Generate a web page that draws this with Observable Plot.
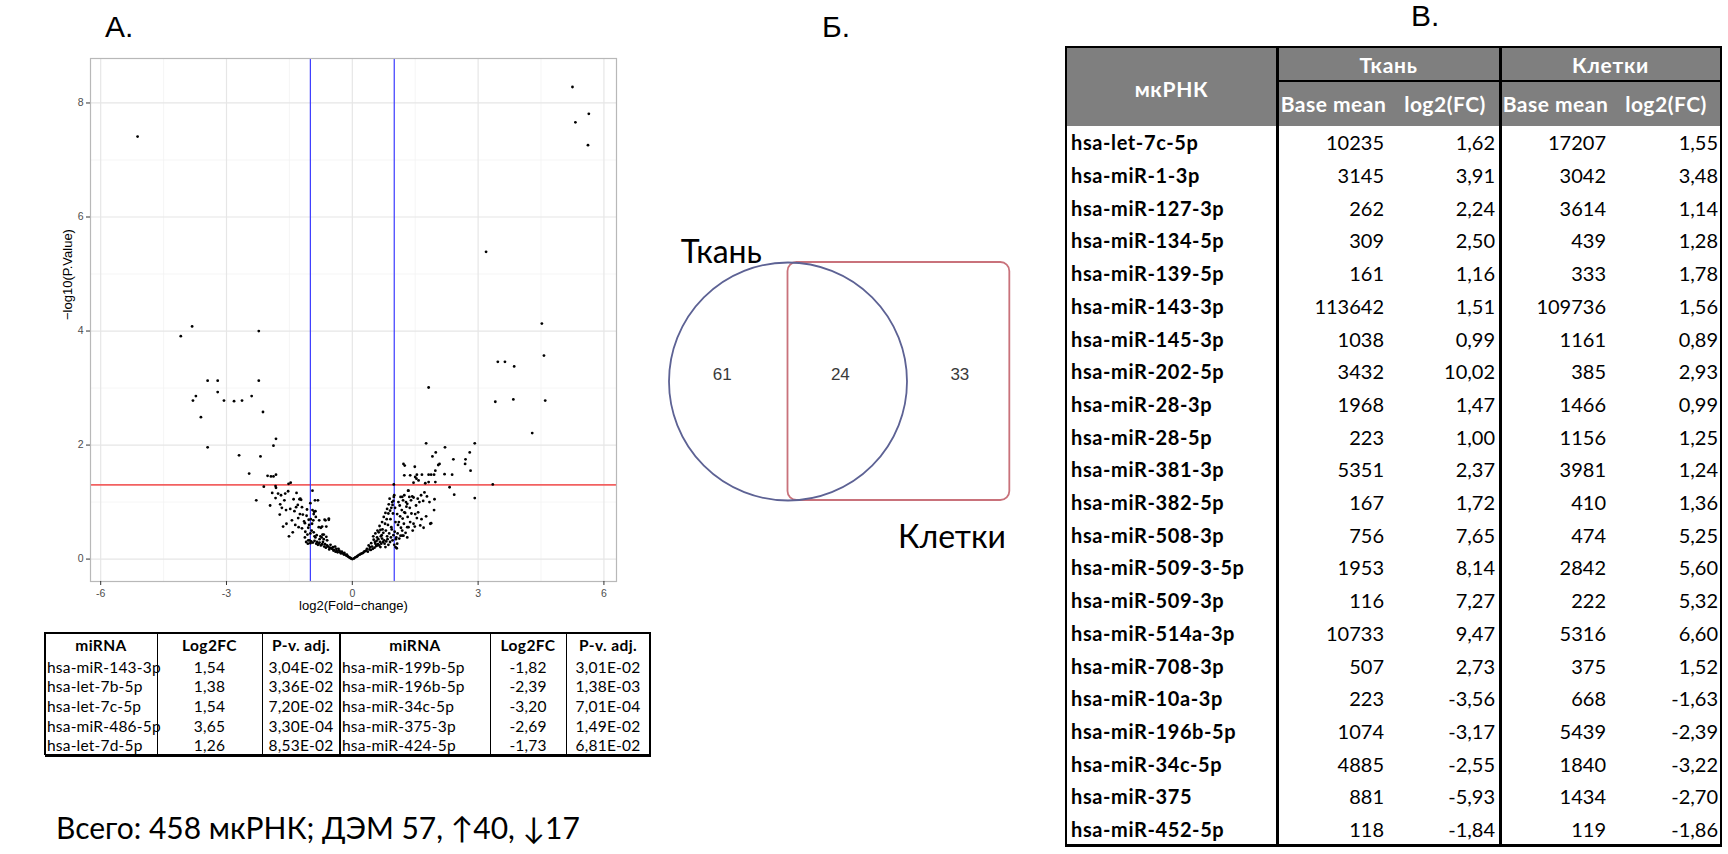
<!DOCTYPE html>
<html lang="ru">
<head>
<meta charset="utf-8">
<script src="https://cdn.jsdelivr.net/npm/d3@7"></script>
<script src="https://cdn.jsdelivr.net/npm/@observablehq/plot@0.6"></script>
<style>
html,body{margin:0;padding:0;background:#fff;}
#page{position:relative;width:1728px;height:854px;overflow:hidden;background:#fff;}
.abs{position:absolute;}
.cell{position:absolute;display:flex;align-items:center;white-space:nowrap;box-sizing:border-box;overflow:visible;}
.line{position:absolute;background:#000;}
</style>
</head>
<body>
<div id="page"></div>
<script>
// ---------------- DATA ----------------
// Volcano plot (A): [log2 fold change, -log10 p-value]
const downReg = [
[-5.12,7.41],[-3.82,4.08],[-4.09,3.91],[-2.23,4.00],[-3.45,3.13],[-3.21,3.13],[-2.23,3.13],[-3.21,2.93],[-3.73,2.86],[-3.80,2.78],[-3.06,2.78],[-2.82,2.77],[-2.63,2.78],[-2.40,2.86],[-2.13,2.58],[-3.61,2.49],[-3.45,1.96],[-1.82,2.11],[-1.88,1.99],[-2.70,1.82],[-2.19,1.80],[-2.46,1.50],[-2.02,1.46],[-1.94,1.45],[-1.88,1.45],[-1.82,1.48],[-2.11,1.27],[-1.83,1.28],[-1.82,1.25],[-1.52,1.32],[-1.47,1.34],[-2.29,1.03],[-0.95,1.20],
[-1.91,1.16],[-1.96,0.94],[-1.83,1.07],[-1.77,1.15],[-1.72,0.96],[-1.73,0.78],[-1.65,0.57],[-1.62,1.03],[-1.58,0.86],[-1.53,1.19],[-1.51,0.40],[-1.48,0.88],[-1.44,0.68],[-1.38,0.84],[-1.34,0.91],[-1.29,0.72],[-1.28,0.56],[-1.24,1.06],[-1.22,1.04],[-1.25,0.79],[-1.18,0.78],[-1.13,0.63],[-1.09,0.76],[-1.07,0.43],[-1.04,0.69],[-1.00,0.28],[-1.06,0.27],[-0.95,0.86],[-0.92,0.79],[-0.88,0.84],[-0.82,1.03],[-0.87,0.74],[-0.93,0.68],[-0.80,0.56],[-0.72,0.57],[-0.64,0.68],[-0.56,0.69],[-0.92,0.47],[-0.88,0.38],[-0.76,0.40],[-0.68,0.43],[-0.62,0.57],[-0.84,0.30],[-0.80,0.27],[-0.72,0.26],[-0.67,0.22],[-0.60,0.24],[-0.54,0.20],[-0.48,0.18],[-0.45,0.15],[-0.41,0.22],[-0.37,0.14],[-0.33,0.18],[-0.29,0.12],[-0.22,0.10],[-0.17,0.08],[-0.11,0.05],[-0.05,0.02],
[-1.30,0.95],[-1.26,1.05],[-1.20,0.91],[-1.13,0.38],[-1.05,0.33],[-0.91,0.83],[-0.89,1.03],[-0.79,0.68],[-0.75,0.55],[-0.71,0.43],[-0.66,0.69],[-0.62,0.39],[-0.56,0.71],
[-1.10,0.30],[-1.02,0.33],[-0.98,0.31],[-0.94,0.29],[-0.90,0.32],[-0.86,0.27],[-0.82,0.25],[-0.78,0.29],[-0.75,0.24],[-0.70,0.30],[-0.65,0.26],[-0.63,0.20],[-0.58,0.22],[-0.55,0.17],[-0.52,0.25],[-0.50,0.19],[-0.46,0.21],[-0.43,0.16],[-0.40,0.13],[-0.38,0.18],[-0.35,0.12],[-0.31,0.15],[-0.27,0.10],[-0.25,0.13],[-0.20,0.08],[-0.19,0.11],[-0.14,0.06],[-0.13,0.08],[-0.09,0.04],[-0.07,0.03],[-0.03,0.01],[-0.60,0.33],[-0.68,0.35],[-0.73,0.38],[-0.78,0.35],[-0.85,0.42],[-0.90,0.40],[-0.97,0.50],[-1.00,0.45],[-1.03,0.60],[-1.05,0.55],[-0.99,0.70],[-0.96,0.62],[-1.08,0.87],[-1.00,0.98],[-1.12,0.48],[-1.20,0.54],[-1.15,0.66],[-1.36,0.60],[-1.42,0.47],[-1.57,0.62],[-1.68,0.90],[-1.70,1.12],[-1.60,1.15],[-1.40,1.05],[-1.33,1.16]
];
const upReg = [
[0,0],[5.25,8.28],[5.64,7.81],[5.32,7.66],[5.62,7.26],[3.19,5.39],[4.52,4.13],[4.57,3.57],[3.47,3.46],[3.64,3.46],[3.86,3.38],[3.41,2.76],[3.84,2.80],[4.60,2.78],[4.29,2.21],[3.35,1.31],[2.92,1.07],[2.92,2.03],[1.82,3.01],
[1.76,2.03],[2.21,1.96],[1.99,1.87],[1.91,1.80],[2.41,1.75],[2.70,1.75],[2.80,1.87],[2.69,1.67],[2.82,1.55],[2.08,1.67],[2.05,1.65],[2.20,1.49],[2.38,1.48],[2.32,1.26],[2.43,1.13],[1.98,1.55],[1.95,1.48],[1.88,1.48],[1.98,1.35],[1.96,1.05],[1.95,0.86],[1.88,0.63],[1.76,0.75],
[1.49,1.62],[1.38,1.47],[1.54,1.48],[1.53,1.41],[1.66,1.48],[1.82,1.48],[1.74,1.33],[1.82,1.35],[1.58,1.38],[1.86,0.62],[1.62,0.59],[1.54,0.72],[1.49,0.57],[1.38,0.65],[1.33,1.20],[1.36,1.09],[1.46,1.08],[1.56,1.06],[1.64,1.12],[1.72,1.17],[1.21,1.03],[1.15,1.09],[1.29,0.92],[1.24,0.82],[1.20,0.71],[1.31,0.56],[1.19,0.50],[1.15,0.41],[1.06,0.19],[1.03,0.65],[1.05,0.38],[0.99,1.09],
[0.07,0.03],[0.15,0.07],[0.23,0.10],[0.31,0.14],[0.35,0.18],[0.39,0.24],[0.45,0.28],[0.51,0.34],[0.55,0.27],[0.59,0.38],[0.63,0.47],[0.67,0.51],[0.71,0.65],[0.75,0.74],[0.79,0.81],[0.83,0.88],[0.87,0.96],[0.89,1.06],[0.95,1.00],[0.93,0.56],[0.83,0.40],[0.71,0.36],[0.79,0.21],[0.67,0.21],[0.59,0.24],[0.99,1.31],[1.03,0.21],[1.07,0.27],[1.12,0.36],[1.19,0.41],[1.11,0.65],[1.07,0.79],[1.13,0.94],[1.19,1.09],[1.24,1.12],[1.31,0.97],[1.26,0.81],[1.34,1.20],[1.22,1.67],[1.25,1.64],[1.24,1.47],[1.50,1.44],[1.46,1.34],[1.40,1.03],[1.50,0.79],[1.46,0.62],[1.34,0.56],[1.22,0.41],[1.31,0.38],
[0.04,0.01],[0.10,0.04],[0.12,0.05],[0.18,0.08],[0.20,0.09],[0.26,0.11],[0.28,0.13],[0.33,0.15],[0.37,0.13],[0.41,0.17],[0.42,0.21],[0.44,0.16],[0.47,0.22],[0.49,0.18],[0.53,0.20],[0.54,0.30],[0.57,0.23],[0.58,0.32],[0.61,0.26],[0.62,0.35],[0.64,0.24],[0.66,0.30],[0.69,0.27],[0.70,0.42],[0.73,0.30],[0.74,0.46],[0.76,0.33],[0.77,0.27],[0.80,0.50],[0.81,0.31],[0.84,0.35],[0.85,0.60],[0.86,0.25],[0.88,0.45],[0.90,0.30],[0.91,0.70],[0.92,0.38],[0.94,0.52],[0.96,0.33],[0.97,0.80],[0.98,0.42],[1.00,0.25],[1.01,0.48],[1.02,0.90],[1.04,0.35],[1.08,0.45],[1.09,0.60],[1.10,1.00],[1.14,0.75],[1.16,0.55],[1.18,0.86],[1.23,0.62],[1.27,0.46],[1.28,1.00],[1.32,0.74],[1.37,0.90],[1.41,0.80],[1.43,1.10],[1.44,0.50],[1.52,0.94],[1.57,0.82],[1.60,1.00],[1.65,0.70],[1.69,1.02],[1.70,0.55],[1.78,1.10],[1.84,1.00],[0.50,0.40],[0.55,0.45],[0.60,0.50],[0.65,0.58],[0.68,0.40],[0.72,0.52],[0.78,0.62],[0.82,0.70],[0.86,0.80],[0.90,0.85],[0.93,0.90],[0.96,0.95],[0.98,1.02],[1.00,1.12]
];
const xTicks = [-6, -3, 0, 3, 6];
const xMinor = [-4.5, -1.5, 1.5, 4.5];
const yTicks = [0, 2, 4, 6, 8];
const yMinor = [1, 3, 5, 7];
const pThreshold = [1.301];     // -log10(0.05)
const fcThresholds = [-1, 1];

// Small table under A
const smallHeader = ["miRNA", "Log2FC", "P-v. adj.", "miRNA", "Log2FC", "P-v. adj."];
const upNames = ["hsa-miR-143-3p", "hsa-let-7b-5p", "hsa-let-7c-5p", "hsa-miR-486-5p", "hsa-let-7d-5p"];
const upLog2FC = [1.54, 1.38, 1.54, 3.65, 1.26];
const upPadj = [3.04e-2, 3.36e-2, 7.20e-2, 3.30e-4, 8.53e-2];
const downNames = ["hsa-miR-199b-5p", "hsa-miR-196b-5p", "hsa-miR-34c-5p", "hsa-miR-375-3p", "hsa-miR-424-5p"];
const downLog2FC = [-1.82, -2.39, -3.20, -2.69, -1.73];
const downPadj = [3.01e-2, 1.38e-3, 7.01e-4, 1.49e-2, 6.81e-2];
const captionText = "Всего: 458 мкРНК; ДЭМ 57, ↑40, ↓17";

// Venn (Б)
const vennSets = ["Ткань", "Клетки"];
const vennCounts = [61, 24, 33];

// Big table (В)
const bigGroups = ["Ткань", "Клетки"];
const bigSub = ["Base mean", "log2(FC)"];
const bigFirst = "мкРНК";
const bigNames = ["hsa-let-7c-5p","hsa-miR-1-3p","hsa-miR-127-3p","hsa-miR-134-5p","hsa-miR-139-5p","hsa-miR-143-3p","hsa-miR-145-3p","hsa-miR-202-5p","hsa-miR-28-3p","hsa-miR-28-5p","hsa-miR-381-3p","hsa-miR-382-5p","hsa-miR-508-3p","hsa-miR-509-3-5p","hsa-miR-509-3p","hsa-miR-514a-3p","hsa-miR-708-3p","hsa-miR-10a-3p","hsa-miR-196b-5p","hsa-miR-34c-5p","hsa-miR-375","hsa-miR-452-5p"];
const tissueBaseMean = [10235,3145,262,309,161,113642,1038,3432,1968,223,5351,167,756,1953,116,10733,507,223,1074,4885,881,118];
const tissueLog2FC = [1.62,3.91,2.24,2.50,1.16,1.51,0.99,10.02,1.47,1.00,2.37,1.72,7.65,8.14,7.27,9.47,2.73,-3.56,-3.17,-2.55,-5.93,-1.84];
const cellsBaseMean = [17207,3042,3614,439,333,109736,1161,385,1466,1156,3981,410,474,2842,222,5316,375,668,5439,1840,1434,119];
const cellsLog2FC = [1.55,3.48,1.14,1.28,1.78,1.56,0.89,2.93,0.99,1.25,1.24,1.36,5.25,5.60,5.32,6.60,1.52,-1.63,-2.39,-3.22,-2.70,-1.86];

const panelLabels = ["А.", "Б.", "В."];

// ---------------- HELPERS ----------------
const page = document.getElementById("page");
const fmt2 = v => v.toFixed(2).replace(".", ",");
const fmtE = v => {
  const [m, e] = v.toExponential(2).split("e");
  const ex = parseInt(e, 10);
  return m.replace(".", ",") + "E" + (ex < 0 ? "-" : "+") + String(Math.abs(ex)).padStart(2, "0");
};
function cell(x, y, w, h, text, css = {}) {
  const d = document.createElement("div");
  d.className = "cell";
  Object.assign(d.style, {left: x + "px", top: y + "px", width: w + "px", height: h + "px"}, css);
  d.textContent = text;
  page.appendChild(d);
  return d;
}
function line(x, y, w, h, color = "#000") {
  const d = document.createElement("div");
  d.className = "line";
  Object.assign(d.style, {left: x + "px", top: y + "px", width: w + "px", height: h + "px", background: color});
  page.appendChild(d);
}

// ---------------- A: VOLCANO ----------------
const volcanoPts = [...downReg, ...upReg].map(([x, y]) => ({x, y}));
const volcano = Plot.plot({
  width: 640, height: 625,
  marginLeft: 90, marginRight: 24, marginTop: 58, marginBottom: 44,
  x: {domain: [-6.243, 6.30], axis: null},
  y: {domain: [-0.393, 8.78], axis: null},
  style: {fontFamily: "'Liberation Sans', Arial, sans-serif", fontSize: "10.5px", color: "#4d4d4d", background: "transparent", overflow: "visible"},
  marks: [
    Plot.gridX(xMinor, {stroke: "#f3f3f3", strokeOpacity: 1, strokeWidth: 0.8}),
    Plot.gridY(yMinor, {stroke: "#f3f3f3", strokeOpacity: 1, strokeWidth: 0.8}),
    Plot.gridX(xTicks, {stroke: "#e6e6e6", strokeOpacity: 1, strokeWidth: 1.2}),
    Plot.gridY(yTicks, {stroke: "#e6e6e6", strokeOpacity: 1, strokeWidth: 1.2}),
    Plot.ruleY(pThreshold, {stroke: "#f26060", strokeWidth: 1.6}),
    Plot.ruleX(fcThresholds, {stroke: "#3a3aff", strokeWidth: 1.2}),
    Plot.dot(volcanoPts, {x: "x", y: "y", r: 1.4, fill: "#000", stroke: "none"}),
    Plot.frame({stroke: "#b8b8b8", strokeWidth: 1.2}),
    Plot.axisX(xTicks, {tickSize: 4, tickPadding: 4, tickFormat: d => String(d), label: null, stroke: "#333"}),
    Plot.axisY(yTicks, {tickSize: 4, tickPadding: 3, tickFormat: d => String(d), label: null, stroke: "#333"}),
    Plot.text(["log2(Fold−change)"], {frameAnchor: "bottom", dy: 28, text: d => d, fontSize: 13, fill: "#000"}),
    Plot.text(["−log10(P.Value)"], {frameAnchor: "left", dx: -23, rotate: -90, text: d => d, fontSize: 13, fill: "#000"})
  ]
});
const vDiv = document.createElement("div");
vDiv.className = "abs"; vDiv.style.left = "0px"; vDiv.style.top = "0px";
vDiv.appendChild(volcano);
page.appendChild(vDiv);

// ---------------- small table ----------------
const ST = {cols: [45, 157, 262, 340, 490, 566, 650], T: 633, H: 657, rowH: 19.6};
const stFont = {fontFamily: "Lato, 'Open Sans', sans-serif", fontSize: "15.5px", color: "#000", lineHeight: "18px"};
smallHeader.forEach((t, j) => {
  cell(ST.cols[j], ST.T, ST.cols[j + 1] - ST.cols[j], ST.H - ST.T, t,
    Object.assign({}, stFont, {justifyContent: "center", fontWeight: "700", letterSpacing: "0.4px"}));
});
const smallRows = upNames.map((n, i) => [n, fmt2(upLog2FC[i]), fmtE(upPadj[i]), downNames[i], fmt2(downLog2FC[i]), fmtE(downPadj[i])]);
smallRows.forEach((r, i) => {
  const y = ST.H + i * ST.rowH;
  r.forEach((t, j) => {
    const isName = j === 0 || j === 3;
    cell(ST.cols[j], y, ST.cols[j + 1] - ST.cols[j], ST.rowH, t,
      Object.assign({}, stFont, {justifyContent: isName ? "flex-start" : "center", paddingLeft: isName ? "2px" : "0", letterSpacing: "0.2px"}));
  });
});
const stB = ST.H + smallRows.length * ST.rowH;
line(ST.cols[0], ST.T - 1, ST.cols[6] - ST.cols[0] + 1, 2);
line(ST.cols[0], stB - 1, ST.cols[6] - ST.cols[0] + 1, 2.5);
ST.cols.forEach((c, j) => {
  const w = (j === 0 || j === 6) ? 1.5 : (j === 3 ? 2.5 : 1);
  line(c - w / 2, ST.T - 1, w, stB - ST.T + (j === 3 ? 3 : 1));
});

// ---------------- B: VENN ----------------
const vennUnit = 119, vW = 420, vH = 360, vCx = 167.5, vCy = 181;
const rectRight = 1.864;           // right edge of "Клетки" box, in circle radii
const circleShape = [{x: 0, y: 0}];
const boxShape = [{x1: 0, x2: rectRight, y1: -1, y2: 1}];
const countPos = [[-0.553, 0.06], [0.44, 0.06], [1.444, 0.06]];
const setLabelPos = [[-0.56, 1.0], [rectRight - 0.486, -1.395]];
const venn = Plot.plot({
  width: vW, height: vH, margin: 0,
  x: {domain: [-vCx / vennUnit, (vW - vCx) / vennUnit], axis: null},
  y: {domain: [-(vH - vCy) / vennUnit, vCy / vennUnit], axis: null},
  style: {background: "transparent", overflow: "visible"},
  marks: [
    Plot.rect(boxShape, {x1: "x1", x2: "x2", y1: "y1", y2: "y2", rx: 9, fill: "none", stroke: "#c9727b", strokeWidth: 1.8}),
    Plot.dot(circleShape, {x: "x", y: "y", r: vennUnit, fill: "none", stroke: "#5d6294", strokeWidth: 1.8}),
    Plot.text(vennCounts, {x: (d, i) => countPos[i][0], y: (d, i) => countPos[i][1], text: d => String(d),
      fontSize: 17, fill: "#3a3a3a", fontFamily: "'Liberation Sans', Arial, sans-serif"}),
    Plot.text(vennSets, {x: (d, i) => setLabelPos[i][0], y: (d, i) => setLabelPos[i][1], text: d => d,
      lineAnchor: "bottom", fontSize: 32, fill: "#000", fontFamily: "Lato, 'Open Sans', sans-serif"})
  ]
});
const vnDiv = document.createElement("div");
vnDiv.className = "abs"; vnDiv.style.left = "620px"; vnDiv.style.top = "200px";
vnDiv.appendChild(venn);
page.appendChild(vnDiv);

// ---------------- C: BIG TABLE ----------------
const BT = {L: 1066, c1: 1277, c2: 1390, c3: 1500, c4: 1611, R: 1721, T: 47, S: 81, H: 126, rowH: 32.7};
const btB = BT.H + bigNames.length * BT.rowH;
const hdr = {fontFamily: "Lato, 'Open Sans', sans-serif", fontWeight: "700", fontSize: "21px", color: "#fff", justifyContent: "center", letterSpacing: "0.7px"};
const hbg = document.createElement("div");
Object.assign(hbg.style, {position: "absolute", left: BT.L + "px", top: BT.T + "px", width: (BT.R - BT.L) + "px", height: (BT.H - BT.T) + "px", background: "#7f7f7f"});
page.appendChild(hbg);
cell(BT.L, BT.T, BT.c1 - BT.L, BT.H - BT.T, bigFirst, Object.assign({}, hdr, {paddingTop: "4px"}));
cell(BT.c1, BT.T, BT.c3 - BT.c1, BT.S - BT.T, bigGroups[0], hdr);
cell(BT.c3, BT.T, BT.R - BT.c3, BT.S - BT.T, bigGroups[1], hdr);
const subCols = [[BT.c1, BT.c2], [BT.c2, BT.c3], [BT.c3, BT.c4], [BT.c4, BT.R]];
subCols.forEach(([a, b], j) => cell(a, BT.S, b - a, BT.H - BT.S, bigSub[j % 2], Object.assign({}, hdr, {letterSpacing: "0.5px"})));
const numCss = {fontFamily: "Lato, 'Open Sans', sans-serif", fontSize: "20px", color: "#000", justifyContent: "flex-end"};
bigNames.forEach((n, i) => {
  const y = BT.H + i * BT.rowH;
  cell(BT.L, y, BT.c1 - BT.L, BT.rowH, n, {fontFamily: "Lato, 'Open Sans', sans-serif", fontWeight: "700", fontSize: "20px", letterSpacing: "0.6px", color: "#000", paddingLeft: "5px"});
  const vals = [String(tissueBaseMean[i]), fmt2(tissueLog2FC[i]), String(cellsBaseMean[i]), fmt2(cellsLog2FC[i])];
  const pads = [6, 5, 5, 3];
  vals.forEach((t, j) => {
    const [a, b] = subCols[j];
    cell(a, y, b - a, BT.rowH, t, Object.assign({}, numCss, {paddingRight: pads[j] + "px"}));
  });
});
line(BT.L, BT.T - 1, BT.R - BT.L + 1, 2);
line(BT.L - 1, BT.T - 1, 2, btB - BT.T + 2);
line(BT.R - 1, BT.T - 1, 2, btB - BT.T + 2);
line(BT.c1 - 1, BT.T - 1, 2.5, btB - BT.T + 2);
line(BT.c3 - 1, BT.T - 1, 2.5, btB - BT.T + 2);
line(BT.c1, BT.S - 1, BT.R - BT.c1, 2);
line(BT.L - 1, btB - 1, BT.R - BT.L + 2, 3);

// ---------------- labels & caption ----------------
const svg = d3.select(page).append("svg")
  .attr("width", 1728).attr("height", 854)
  .style("position", "absolute").style("left", "0px").style("top", "0px").style("pointer-events", "none");
const labelPos = [[105, 37], [822, 37], [1411, 26]];
svg.selectAll("text.pl").data(panelLabels).join("text").attr("class", "pl")
  .attr("x", (d, i) => labelPos[i][0]).attr("y", (d, i) => labelPos[i][1])
  .attr("font-family", "'Liberation Sans', Arial, sans-serif").attr("font-size", 30).attr("fill", "#000")
  .text(d => d);
svg.append("text").attr("x", 56).attr("y", 839)
  .attr("font-family", "Lato, 'Open Sans', sans-serif").attr("font-size", 30).attr("fill", "#000")
  .text(captionText);
</script>
</body>
</html>
